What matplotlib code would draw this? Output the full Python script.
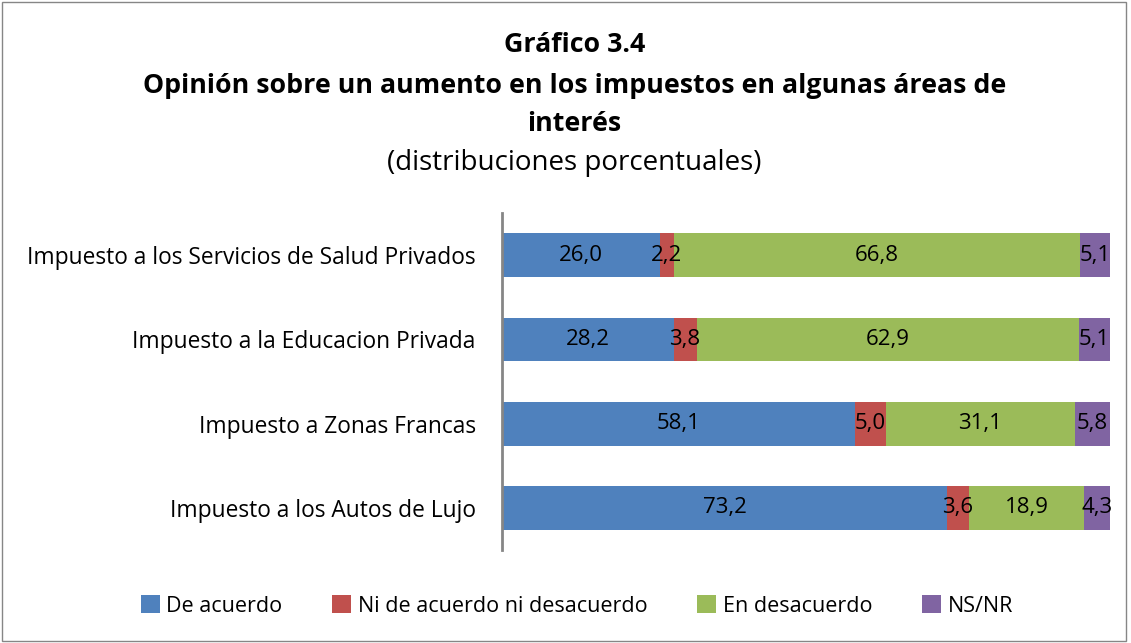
import matplotlib.pyplot as plt
from matplotlib.patches import Rectangle

plt.rcParams['font.family'] = ['Open Sans', 'DejaVu Sans']

categorias = ['Impuesto a los Servicios de Salud Privados',
              'Impuesto a la Educacion Privada',
              'Impuesto a Zonas Francas',
              'Impuesto a los Autos de Lujo']
de_acuerdo = [26.0, 28.2, 58.1, 73.2]
ni_ni = [2.2, 3.8, 5.0, 3.6]
desacuerdo = [66.8, 62.9, 31.1, 18.9]
ns_nr = [5.1, 5.1, 5.8, 4.3]

series = [('De acuerdo', de_acuerdo, '#4F81BD'),
          ('Ni de acuerdo ni desacuerdo', ni_ni, '#C0504D'),
          ('En desacuerdo', desacuerdo, '#9BBB59'),
          ('NS/NR', ns_nr, '#8064A2')]

fig = plt.figure(figsize=(11.31, 6.43), dpi=100)
ax = fig.add_axes([0.4439, 0.1446, 0.5376, 0.524])

# barras apiladas, de arriba hacia abajo
y = list(range(len(categorias)))[::-1]
left = [0.0] * len(categorias)
for nombre, valores, color in series:
    ax.barh(y, valores, left=left, height=0.52, color=color, label=nombre)
    for yi, l, v in zip(y, left, valores):
        ax.text(l + v / 2, yi, f'{v:.1f}'.replace('.', ','),
                ha='center', va='center', fontsize=16, color='black')
    left = [a + b for a, b in zip(left, valores)]

ax.set_xlim(0, 100)
ax.set_ylim(-0.5, 3.5)
ax.set_yticks(y)
ax.set_yticklabels(categorias, fontsize=16.4)
ax.tick_params(axis='y', length=0, pad=19)
ax.set_xticks([])
for s in ['top', 'right', 'bottom']:
    ax.spines[s].set_visible(False)
ax.spines['left'].set_color('#868686')
ax.spines['left'].set_linewidth(2)

# titulos
fig.text(0.508, 0.93, 'Gráfico 3.4', ha='center', va='center',
         fontsize=19.3, fontweight='bold')
fig.text(0.508, 0.867, 'Opinión sobre un aumento en los impuestos en algunas áreas de',
         ha='center', va='center', fontsize=19.3, fontweight='bold')
fig.text(0.508, 0.807, 'interés', ha='center', va='center',
         fontsize=19.3, fontweight='bold')
fig.text(0.508, 0.747, '(distribuciones porcentuales)', ha='center', va='center',
         fontsize=20)

fig.legend(loc='center', bbox_to_anchor=(0.51, 0.0575), ncol=4, frameon=False,
           fontsize=15.5, handlelength=0.9, handleheight=0.9, handletextpad=0.3,
           columnspacing=2.3)

# marco del grafico
fig.patches.append(Rectangle((0.002, 0.003), 0.994, 0.994, transform=fig.transFigure,
                             fill=False, edgecolor='#868686', linewidth=1))

fig.savefig('out.png', dpi=100)
